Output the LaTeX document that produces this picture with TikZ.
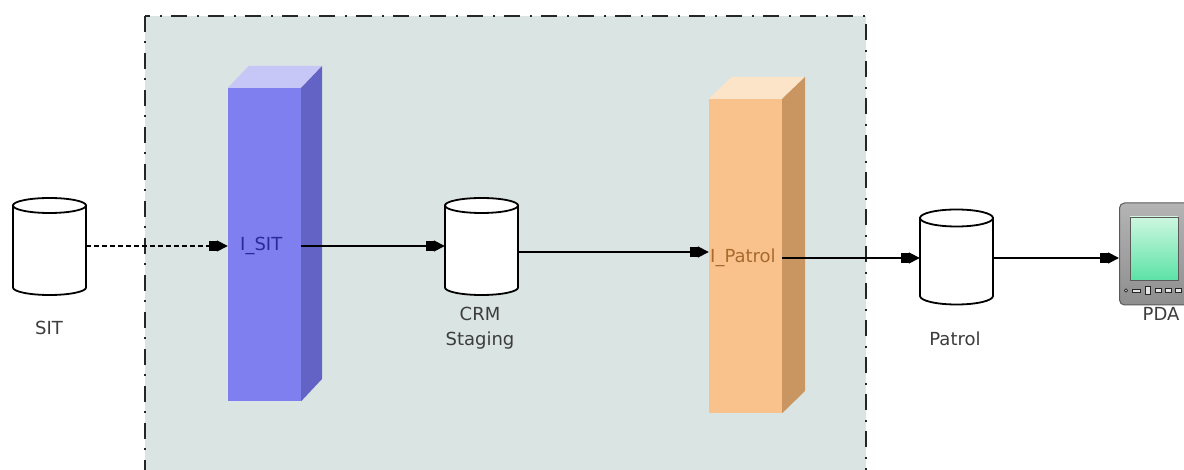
\documentclass[tikz,border=0pt]{standalone}
\usepackage{fontspec}
\setmainfont{DejaVu Sans}
\usetikzlibrary{arrows.meta}
\definecolor{framefill}{HTML}{DAE5E3}
\definecolor{sitfront}{HTML}{7F7FEF}
\definecolor{sittop}{HTML}{C6C6F7}
\definecolor{sitside}{HTML}{6363C6}
\definecolor{patfront}{HTML}{F9C28C}
\definecolor{pattop}{HTML}{FCE4C9}
\definecolor{patside}{HTML}{C99661}
\definecolor{sittext}{HTML}{2A2A9C}
\definecolor{pattext}{HTML}{A86A2E}
\definecolor{lbltext}{HTML}{3C3C3C}
\definecolor{pdatop}{HTML}{B4B4B4}
\definecolor{pdabot}{HTML}{8E8E8E}
\definecolor{scrtop}{HTML}{CDF7E0}
\definecolor{scrbot}{HTML}{5CE2A6}
\definecolor{pdaedge}{HTML}{5A5A5A}
\newcommand\dbcyl[5]{% cx, top centre, bottom centre, rx, ry
  \filldraw[cylline] ({#1-#4},#2) -- ({#1-#4},#3)
    .. controls ({#1-#4},{#3+0.5523*#5}) and ({#1-0.5523*#4},{#3+#5}) .. (#1,{#3+#5})
    .. controls ({#1+0.5523*#4},{#3+#5}) and ({#1+#4},{#3+0.5523*#5}) .. ({#1+#4},#3)
    -- ({#1+#4},#2) -- cycle;
  \filldraw[cylline] (#1,#2) ellipse ({#4} and {#5});
}
\begin{document}
\begin{tikzpicture}[x=1pt,y=-1pt,
  cylline/.style={draw=black, fill=white, line width=1.8pt},
  conn/.style={draw=none, inner sep=0pt, minimum width=73pt},
  colface/.style={draw=none, inner sep=0pt, minimum width=73pt},
  lbl/.style={text=lbltext, font=\fontsize{18}{22}\selectfont, inner sep=0pt},
  arr/.style={line width=1.7pt, -{Rectangle[length=8pt,width=10pt]Triangle[length=11pt,width=11pt]}},
  frame/.style={fill=framefill, draw=black!85, line width=1.8pt, dash pattern=on 16pt off 9pt on 2pt off 10pt},
  pdabody/.style={draw=pdaedge, line width=1pt, rounded corners=5pt, minimum width=71pt, minimum height=102pt, top color=pdatop, bottom color=pdabot, inner sep=0pt},
  pdascreen/.style={draw=pdaedge, line width=0.8pt, minimum width=48pt, minimum height=63pt, top color=scrtop, bottom color=scrbot, inner sep=0pt},
  pdabtn/.style={draw=black!85, line width=0.8pt, fill=white!80!gray}
]
\useasboundingbox (0,0) rectangle (1184,470);
\clip (0,0) rectangle (1184,470);
\fill[white] (0,0) rectangle (1184,470);

% boundary frame
\draw[frame] (145,16) rectangle (866,500);

% I_SIT column
\node[colface, fill=sitfront, minimum height=313pt] (isit) at (264.5,244.5) {};
\fill[sittop] (isit.north west) -- ++(21,-22) -- ++(73,0) -- (isit.north east) -- cycle;
\fill[sitside] (isit.north east) -- ++(21,-22) -- ++(0,313) -- (isit.south east) -- cycle;
\node[lbl, text=sittext, anchor=base west] (isitl) at (240,251) {I\_SIT};

% I_Patrol column
\node[colface, fill=patfront, minimum height=314pt] (ipat) at (745.5,256) {};
\fill[pattop] (ipat.north west) -- ++(23,-22) -- ++(73,0) -- (ipat.north east) -- cycle;
\fill[patside] (ipat.north east) -- ++(23,-22) -- ++(0,314) -- (ipat.south east) -- cycle;
\node[lbl, text=pattext, anchor=base west] (ipatl) at (710,263) {I\_Patrol};

% databases
\dbcyl{49.5}{205.5}{287.5}{36.5}{7.5}
\node[conn, minimum height=98pt] (sit) at (49.5,246) {};
\node[lbl, anchor=base] (sitl) at (49,335) {SIT};

\dbcyl{481.5}{205.5}{287.5}{36.5}{7.5}
\node[conn, minimum height=98pt] (crm) at (481.5,246) {};
\node[lbl, anchor=base] (crml1) at (480,321) {CRM};
\node[lbl, anchor=base] (crml2) at (480,346) {Staging};

\dbcyl{956.5}{218}{296}{36.5}{8.5}
\node[conn, minimum height=96pt] (patrol) at (956.5,258) {};
\node[lbl, anchor=base] (patroll) at (955,346) {Patrol};

% PDA
\node[pdabody] (pda) at (1155,254) {};
\node[pdascreen] (pdascr) at (1154,248.5) {};
\draw[pdabtn] (1126,290.5) circle (1.6);
\draw[pdabtn] (1132,289) rectangle (1140,292.5);
\draw[pdabtn] (1145,286.5) rectangle (1150,294.5);
\draw[pdabtn] (1155,288.5) rectangle (1161,292.5);
\draw[pdabtn] (1165,288.5) rectangle (1171,292.5);
\draw[pdabtn] (1175,288.5) rectangle (1181,292.5);
\node[lbl, anchor=base] (pdal) at (1161,321) {PDA};

% connectors
\draw[arr, dash pattern=on 5pt off 3pt] (sit.east) -- (sit.east -| isit.west);
\draw[arr] (isit.east |- crm.west) -- (crm.west);
\coordinate (crmout) at ([yshift=-6pt]crm.east);
\draw[arr] (crmout) -- (crmout -| ipat.west);
\draw[arr] (ipat.east |- patrol.west) -- (patrol.west);
\draw[arr] (patrol.east) -- (patrol.east -| pda.west);
\end{tikzpicture}
\end{document}
